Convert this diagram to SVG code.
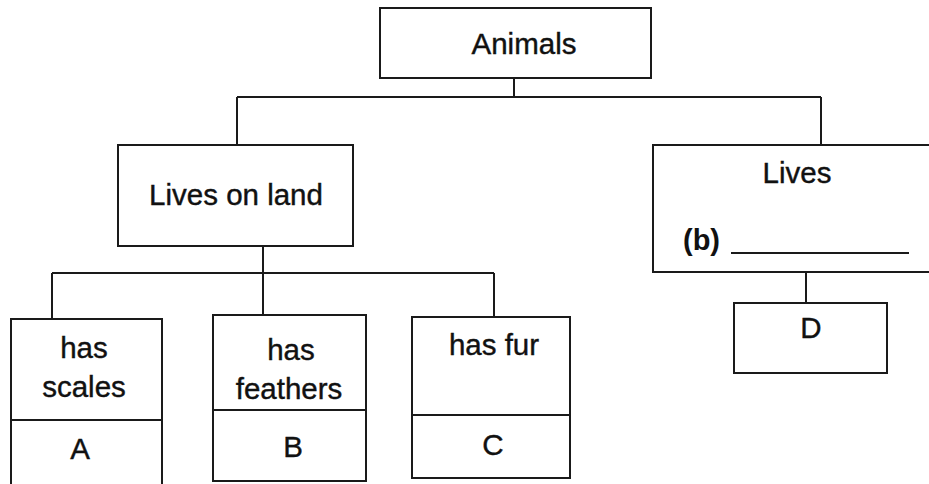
<svg xmlns="http://www.w3.org/2000/svg" width="929" height="484" viewBox="0 0 929 484">
<style>
.box{fill:#fff;stroke:#1a1a1a;stroke-width:2}
.ln{stroke:#1a1a1a;stroke-width:2;fill:none}
.t{font-family:"Liberation Sans",Arial,sans-serif;font-size:29.5px;fill:#111;stroke:#111;stroke-width:0.4;text-anchor:middle}
.tb{font-family:"Liberation Sans",Arial,sans-serif;font-size:29px;fill:#111;font-weight:bold}
</style>
<rect width="929" height="484" fill="#fff"/>
<g id="connectors" class="ln">
<line x1="514" y1="78" x2="514" y2="97"/>
<line x1="237" y1="97" x2="821" y2="97"/>
<line x1="237" y1="97" x2="237" y2="145"/>
<line x1="821" y1="97" x2="821" y2="145"/>
<line x1="263" y1="246" x2="263" y2="273"/>
<line x1="52" y1="273" x2="494" y2="273"/>
<line x1="52" y1="273" x2="52" y2="319"/>
<line x1="263" y1="273" x2="263" y2="315"/>
<line x1="494" y1="273" x2="494" y2="317"/>
<line x1="806" y1="272" x2="806" y2="303"/>
</g>
<g id="animals">
<rect class="box" x="380" y="8" width="271" height="70"/>
<text class="t" x="524" y="54">Animals</text>
</g>
<g id="land">
<rect class="box" x="118" y="145" width="235" height="101"/>
<text class="t" x="236" y="205">Lives on land</text>
</g>
<g id="lives">
<rect class="box" x="653" y="145" width="290" height="127"/>
<text class="t" x="797" y="183">Lives</text>
<text class="tb" x="683" y="250">(b)</text>
<line class="ln" x1="731" y1="253" x2="909" y2="253"/>
</g>
<g id="d">
<rect class="box" x="734" y="303" width="153" height="70"/>
<text class="t" x="811" y="338">D</text>
</g>
<g id="scales">
<rect class="box" x="11" y="319" width="151" height="175"/>
<line class="ln" x1="11" y1="420" x2="162" y2="420"/>
<text class="t" x="84" y="358">has</text>
<text class="t" x="84" y="397">scales</text>
<text class="t" x="80" y="459">A</text>
</g>
<g id="feathers">
<rect class="box" x="213" y="315" width="153" height="166"/>
<line class="ln" x1="213" y1="410" x2="366" y2="410"/>
<text class="t" x="291" y="360">has</text>
<text class="t" x="289" y="399">feathers</text>
<text class="t" x="293" y="457">B</text>
</g>
<g id="fur">
<rect class="box" x="412" y="317" width="158" height="161"/>
<line class="ln" x1="412" y1="415" x2="570" y2="415"/>
<text class="t" x="494" y="355">has fur</text>
<text class="t" x="493" y="455">C</text>
</g>
</svg>
